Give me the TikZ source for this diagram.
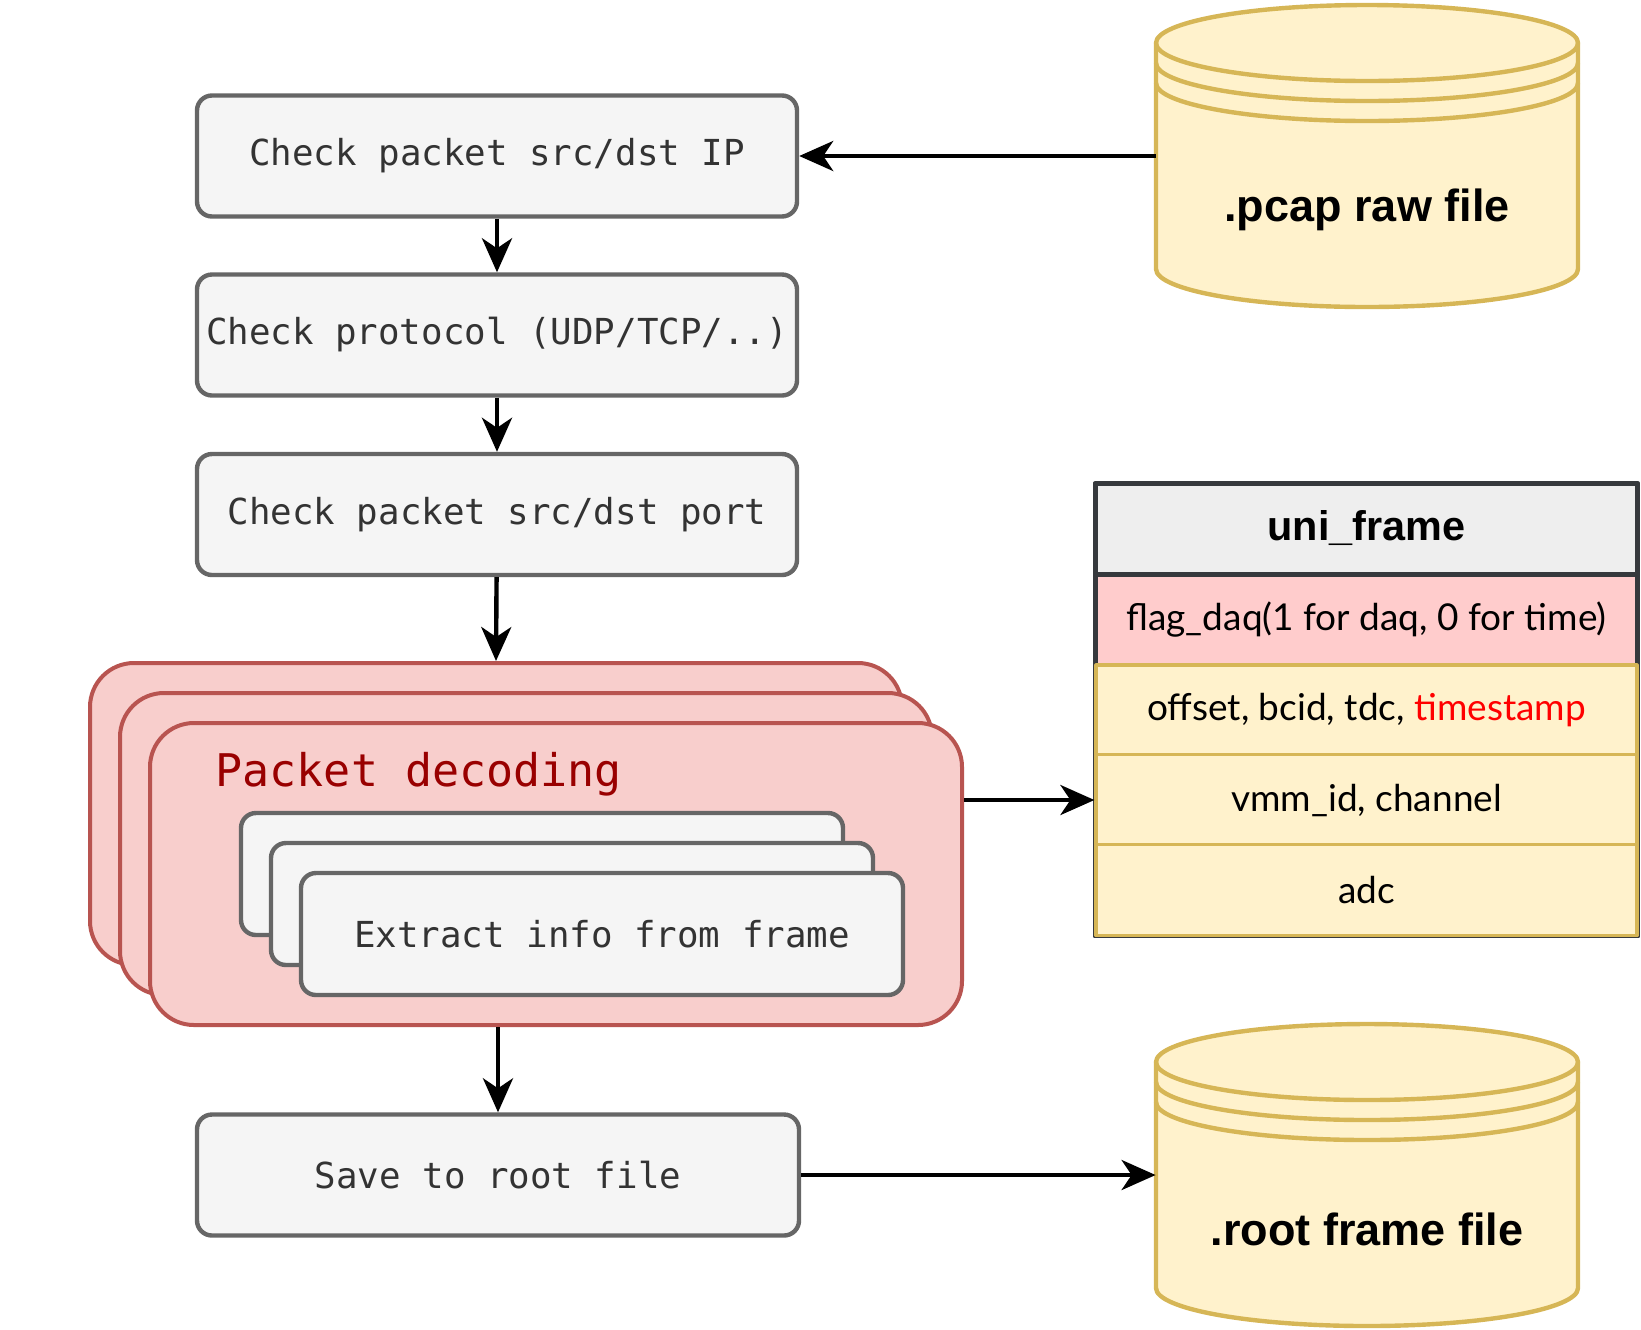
\documentclass[tikz,border=0pt]{standalone}
\usepackage{fontspec}
\setmainfont{Lato}
\setmonofont{DejaVu Sans Mono}
\newfontfamily\boldsans{Liberation Sans}
\usetikzlibrary{arrows.meta}
\definecolor{boxfill}{HTML}{F5F5F5}
\definecolor{boxline}{HTML}{666666}
\definecolor{boxtext}{HTML}{333333}
\definecolor{redfill}{HTML}{F8CECC}
\definecolor{redline}{HTML}{B85450}
\definecolor{redtext}{HTML}{990000}
\definecolor{yelfill}{HTML}{FFF2CC}
\definecolor{yelline}{HTML}{D6B656}
\definecolor{hdrfill}{HTML}{EEEEEE}
\definecolor{hdrline}{HTML}{36393D}
\definecolor{flagfill}{HTML}{FFCCCC}
\tikzset{
  stepbox/.style={draw=boxline, fill=boxfill, line width=2.2pt, rounded corners=7.5pt, minimum width=300pt, minimum height=60.5pt, inner sep=0pt, text=boxtext, font=\ttfamily\fontsize{17.9}{20}\selectfont},
  decbox/.style={draw=redline, fill=redfill, line width=2pt, rounded corners=22pt, minimum width=406pt, minimum height=151pt, inner sep=0pt},
  store/.style={draw=yelline, fill=yelfill, line width=2.2pt},
  field/.style={draw=yelline, fill=yelfill, line width=1.6pt, minimum width=270.5pt, minimum height=45.5pt, inner sep=0pt, font=\fontsize{18.5}{22}\selectfont},
  flow/.style={-{Stealth[length=17pt,width=15pt,inset=5pt]}, line width=2.2pt},
}
% data store: name, centre x, top y, label
\newcommand{\datastore}[4]{%
  \path[store] (#2-211,#3+38) -- (#2-211,#3+264) arc[start angle=180,end angle=360,x radius=105.5pt,y radius=19pt] -- (#2+211,#3+38) arc[start angle=0,end angle=180,x radius=105.5pt,y radius=19pt] -- cycle;
  \foreach \dy in {0,20,40}
    \draw[store, fill=none] (#2-211,#3+38+\dy) arc[start angle=180,end angle=360,x radius=105.5pt,y radius=19pt];
  \node[minimum width=211pt, minimum height=151pt, inner sep=0pt] (#1) at (#2,#3+151) {};
  \node[font=\boldsans\bfseries\fontsize{22.5}{26}\selectfont] (#1-label) at (#2,#3+205) {#4};
}
\begin{document}
\begin{tikzpicture}[x=0.5pt, y=-0.5pt, line join=round]
  \useasboundingbox (0,0) rectangle (1641,1329);
  % left column
  \node[stepbox] (ipchk) at (497,156) {Check packet src/dst IP};
  \node[stepbox] (protochk) at (497,335) {Check protocol (UDP/TCP/..)};
  \node[stepbox] (portchk) at (497,514.5) {Check packet src/dst port};
  \foreach \i in {0,1,2}
    \node[decbox] (dec\i) at (496+30*\i,814+30*\i) {};
  \node[anchor=base west, text=redtext, font=\ttfamily\fontsize{22.5}{26}\selectfont] (declabel) at (208.5,786) {Packet decoding};
  \foreach \i in {0,1}
    \node[stepbox, minimum width=301pt, minimum height=61pt] (ext\i) at (542+30*\i,874+30*\i) {};
  \node[stepbox, minimum width=301pt, minimum height=61pt] (ext2) at (602,934) {Extract info from frame};
  \node[stepbox, minimum width=301pt] (save) at (498,1175) {Save to root file};
  % files
  \datastore{pcap}{1367}{5}{.pcap raw file}
  \datastore{rootf}{1367}{1024}{.root frame file}
  % uni_frame table
  \draw[hdrline, line width=0.8pt] (1094,483) rectangle (1639,937);
  \node[draw=hdrline, fill=hdrfill, line width=2.5pt, minimum width=271pt, minimum height=45.5pt, inner sep=0pt, font=\boldsans\bfseries\fontsize{20.7}{24}\selectfont] (hdr) at (1366.5,528.5) {uni\_frame};
  \node[field, draw=hdrline, fill=flagfill, line width=2.5pt, minimum width=271pt] (flag) at (1366.5,619.5) {flag\_daq(1 for daq, 0 for time)};
  \node[field] (offs) at (1366.5,710.5) {offset, bcid, tdc, \textcolor{red}{timestamp}};
  \node[field] (vmm) at (1366.5,800) {vmm\_id, channel};
  \node[field] (adc) at (1366.5,890) {adc};
  % connectors
  \draw[flow] (pcap.west) -- (ipchk.east);
  \draw[flow] (ipchk) -- (protochk);
  \draw[flow] (protochk) -- (portchk);
  \draw[flow] (portchk) -- (dec0.north);
  \draw[flow] (dec2.east |- vmm.west) -- (vmm.west);
  \draw[flow] (save.north |- dec2.south) -- (save.north);
  \draw[flow] (save.east) -- (rootf.west);
\end{tikzpicture}
\end{document}
